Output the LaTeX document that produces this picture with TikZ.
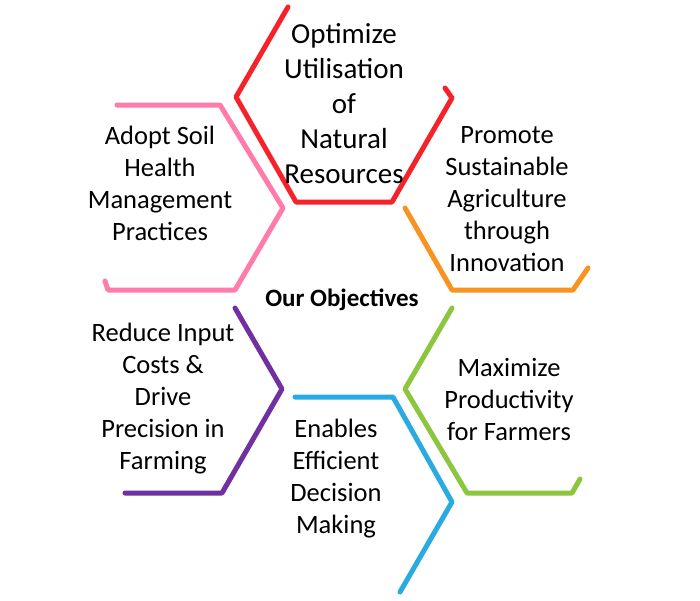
\documentclass[tikz,border=0pt]{standalone}
\usepackage{fontspec}
\setmainfont{Carlito}
\definecolor{cred}{HTML}{F5222A}
\definecolor{cpink}{HTML}{FF7BAC}
\definecolor{corange}{HTML}{F7931E}
\definecolor{cpurple}{HTML}{7030A0}
\definecolor{cblue}{HTML}{29ABE2}
\definecolor{cgreen}{HTML}{8CC63F}
\tikzset{
  hexline/.style={line width=5pt, line cap=round, line join=round},
  lbl/.style={align=center, font=\fontsize{26.5}{32}\selectfont, inner sep=0pt},
  biglbl/.style={align=center, font=\fontsize{29}{35}\selectfont, inner sep=0pt},
}
\begin{document}
\begin{tikzpicture}[x=1pt,y=-1pt]
\useasboundingbox (0,0) rectangle (700,600);
\fill[white] (0,0) rectangle (700,600);
% red
\draw[hexline, cred] (288,7) -- (236,97) -- (296,202) -- (392,202) -- (452,98) -- (445,88);
% pink
\draw[hexline, cpink] (117,105) -- (220,105) -- (283,208) -- (235,290) -- (108,290) -- (105,281);
% orange
\draw[hexline, corange] (405,208) -- (452,290) -- (573,290) -- (588,268);
% purple
\draw[hexline, cpurple] (235,308) -- (282,389) -- (222,493) -- (125,493);
% blue
\draw[hexline, cblue] (295,397) -- (393,397) -- (452,502) -- (400,592);
% green
\draw[hexline, cgreen] (452,308) -- (405,389) -- (467,493) -- (572,493) -- (580,479);
% texts
\node[biglbl] (t1) at (344,104) {Optimize\\Utilisation\\of\\Natural\\Resources};
\node[lbl] (t2) at (160,183) {Adopt Soil\\Health\\Management\\Practices};
\node[lbl] (t3) at (507,199) {Promote\\Sustainable\\Agriculture\\through\\Innovation};
\node[lbl] (t4) at (163,399) {Reduce Input\\Costs \&\\Drive\\Precision in\\Farming};
\node[lbl] (t5) at (509,399) {Maximize\\Productivity\\for Farmers};
\node[lbl] (t6) at (336,479) {Enables\\Efficient\\Decision\\Making};
\node[inner sep=0pt, font=\fontsize{25}{30}\selectfont\bfseries] (c) at (342,300) {Our Objectives};
\end{tikzpicture}
\end{document}
